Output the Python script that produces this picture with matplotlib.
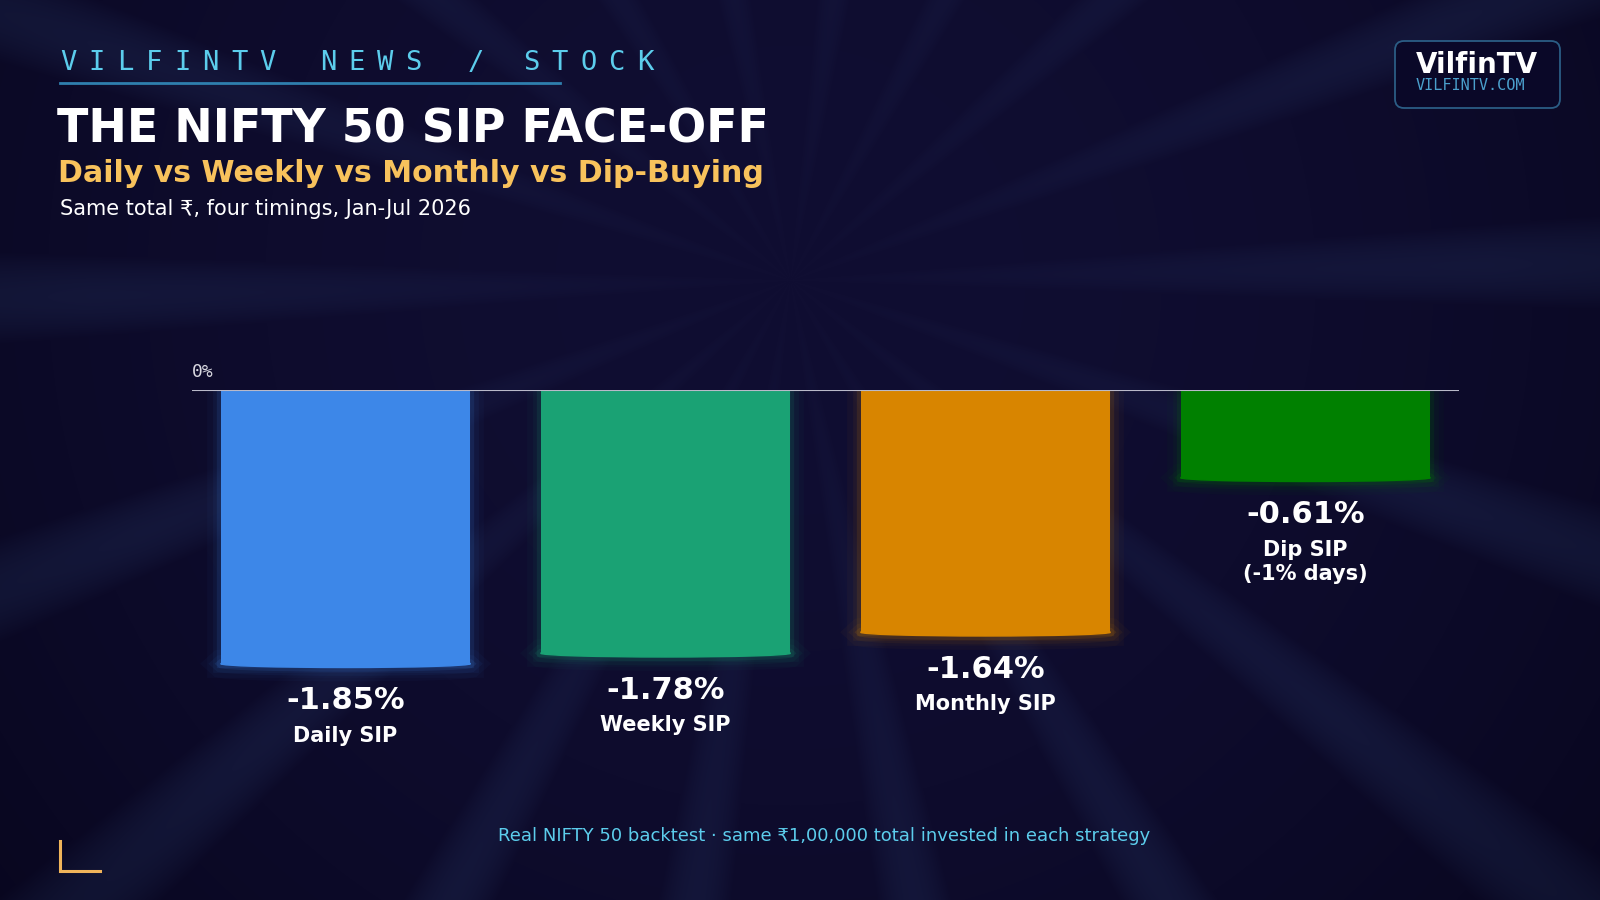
import numpy as np
import matplotlib.pyplot as plt
import matplotlib.patheffects as pe
from matplotlib.patches import Ellipse, FancyBboxPatch

# data
strategies = ['Daily SIP', 'Weekly SIP', 'Monthly SIP', 'Dip SIP\n(-1% days)']
returns = [-1.85, -1.78, -1.64, -0.61]
bar_colors = ['#3d87e8', '#1aa274', '#d88500', '#008000']

header_words = ['VILFINTV', 'NEWS', '/', 'STOCK']
header_x = [60, 320, 468, 523]
title = 'THE NIFTY 50 SIP FACE-OFF'
subtitle = 'Daily vs Weekly vs Monthly vs Dip-Buying'
subline = 'Same total \u20b9, four timings, Jan-Jul 2026'
footer = 'Real NIFTY 50 backtest \u00b7 same \u20b91,00,000 total invested in each strategy'

W, H = 1600, 900
fig = plt.figure(figsize=(16, 9), dpi=100)

# background with soft rays
yy, xx = np.mgrid[0:H, 0:W]
cx, cy = 790, 280
r = np.hypot(xx - cx, yy - cy)
ang = np.arctan2(yy - cy, xx - cx)
ray = np.clip((np.cos(ang * 18 + 0.4) - 0.5) / 0.5, 0, 1)
fade = np.clip(r / 700, 0, 1)
vign = np.clip(1 - (r / 1050) ** 2, 0, 1)
base = np.array([16, 14, 50]) / 255
edge = np.array([8, 6, 30]) / 255
light = np.array([30, 38, 82]) / 255
img = base * vign[..., None] + edge * (1 - vign[..., None])
img = img + (light - base) * (ray * fade * 0.5)[..., None]

bg = fig.add_axes([0, 0, 1, 1], zorder=0)
bg.imshow(np.clip(img, 0, 1), extent=(0, W, H, 0), aspect='auto')
bg.set_xlim(0, W)
bg.set_ylim(H, 0)
bg.axis('off')

# header, letter spaced
for word, x0 in zip(header_words, header_x):
    for i, ch in enumerate(word):
        bg.text(x0 + i * 28.5, 63, ch, family='DejaVu Sans Mono', fontsize=19.5,
                color='#5ccdec', ha='left', va='center')
bg.plot([60, 560], [83, 83], color='#2f7fae', lw=2)

bg.text(57, 130, title, fontsize=33, fontweight='bold', color='white', va='center')
bg.text(58, 174, subtitle, fontsize=21.6, fontweight='bold', color='#f8c25c', va='center')
bg.text(60, 209, subline, fontsize=15, color='white', va='center')

# logo
bg.add_patch(FancyBboxPatch((1395, 41), 165, 67, boxstyle='round,pad=0,rounding_size=9',
                            fc='#0a0828', ec='#2b5d85', lw=1.3))
bg.text(1416, 65, 'VilfinTV', fontsize=20, fontweight='bold', color='white', va='center')
bg.text(1416, 85, 'VILFINTV.COM', family='DejaVu Sans Mono', fontsize=11,
        color='#4a9fcc', va='center')

# footer + corner
bg.text(824, 836, footer, fontsize=13, color='#5ccdec', ha='center', va='center')
bg.plot([60, 60, 100], [841, 871, 871], color='#f0b45a', lw=2.2, solid_joinstyle='miter')

# chart
ax = fig.add_axes([192 / W, 1 - 840 / H, (1459 - 192) / W, 450 / H], zorder=1)
ax.set_facecolor('none')
ax.set_xlim(-0.48, 3.48)
ax.set_ylim(-3, 0)
ax.axis('off')

x = np.arange(len(returns))
bw = 0.78
cap = 0.05


def glow(c):
    return [pe.Stroke(linewidth=20, foreground=c, alpha=0.035),
            pe.Stroke(linewidth=12, foreground=c, alpha=0.06),
            pe.Stroke(linewidth=6, foreground=c, alpha=0.12),
            pe.Normal()]


bars = ax.bar(x, [v + cap / 2 for v in returns], width=bw, color=bar_colors, zorder=2)
for b, xi, v, c, name in zip(bars, x, returns, bar_colors, strategies):
    b.set_path_effects(glow(c))
    el = Ellipse((xi, v + cap / 2), bw, cap, color=c, zorder=2)
    el.set_path_effects(glow(c))
    ax.add_patch(el)
    ax.annotate(f'{v:.2f}%', (xi, v), xytext=(0, -24), textcoords='offset points',
                ha='center', va='center', fontsize=22, fontweight='bold', color='white')
    ax.annotate(name, (xi, v), xytext=(0, -42), textcoords='offset points',
                ha='center', va='top', fontsize=15, fontweight='bold', color='white',
                linespacing=1.25)

ax.axhline(0, color='#b9b9c9', lw=1.5, zorder=3)
ax.annotate('0%', (-0.48, 0), xytext=(0, 13), textcoords='offset points',
            family='DejaVu Sans Mono', fontsize=13, color='#d8d8e0', ha='left', va='center')

fig.savefig('out.png', dpi=100, facecolor='#0c0a2c')
